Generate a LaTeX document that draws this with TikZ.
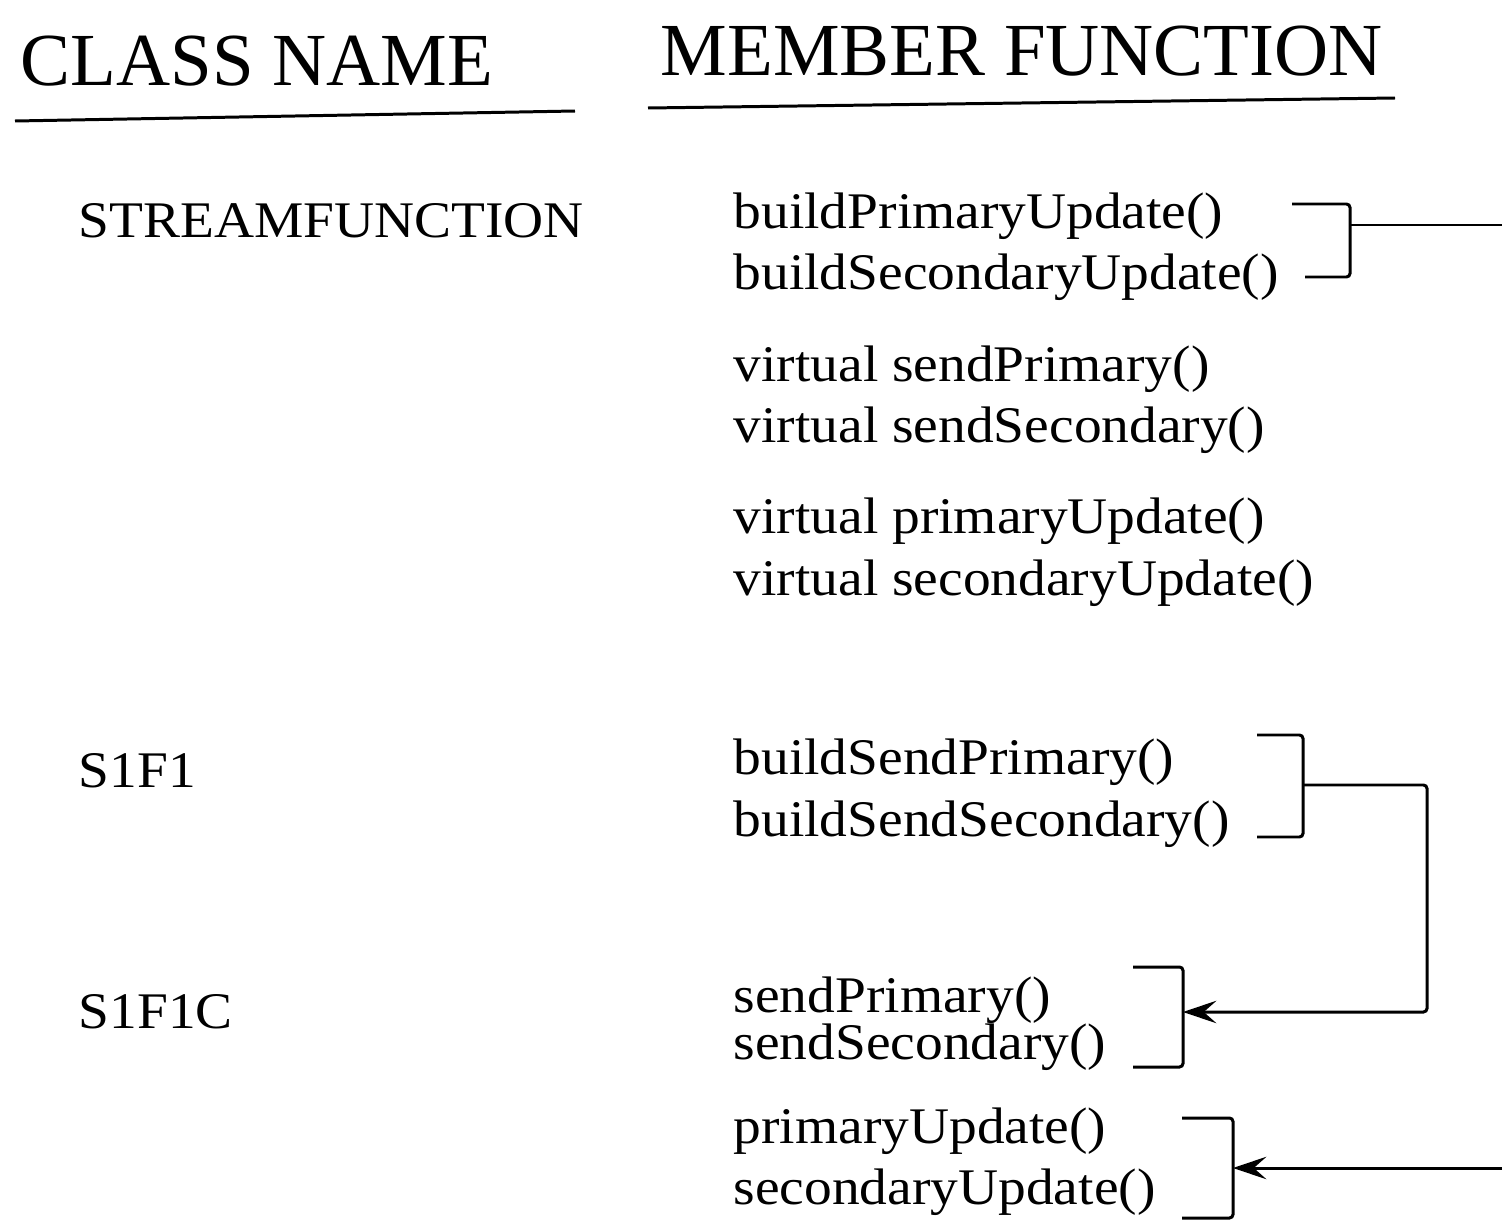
\documentclass[tikz,border=0pt]{standalone}
\usepackage{fontspec}
\setmainfont{Liberation Serif}
\newfontfamily\bodyfont{Liberation Serif}[FakeStretch=1.08]
\usepackage{tikz}
\usetikzlibrary{arrows.meta}

\begin{document}
\begin{tikzpicture}[
        x=0.01cm, y=-0.01cm,
        heading/.style={anchor=base west, inner sep=0pt, font=\fontsize{21.3}{24}\selectfont},
        entry/.style={anchor=base west, inner sep=0pt, font=\bodyfont\fontsize{14.6}{17}\selectfont},
        bracket/.style={draw, line width=0.85pt, rounded corners=1pt},
        link/.style={draw, line width=0.85pt, rounded corners=1pt,
            -{Stealth[length=9.5pt, width=6.4pt, inset=3.6pt]}}
    ]
        \useasboundingbox (0,0) rectangle (1502,1230);

        % Headings
        \node[heading] (clshead) at (20,85) {CLASS NAME};
        \node[heading] (memhead) at (660,75) {MEMBER FUNCTION};
        \draw[line width=0.85pt] (15,121) -- (575,111);
        \draw[line width=0.85pt] (648,108) -- (1395,98);

        % Classes
        \node[entry] (stream) at (78,237) {STREAMFUNCTION};
        \node[entry] (s1f1) at (78,787) {S1F1};
        \node[entry] (s1f1c) at (78,1028) {S1F1C};

        % Member functions
        \node[entry] (bpu) at (733,228) {buildPrimaryUpdate()};
        \node[entry] (bsu) at (733,289) {buildSecondaryUpdate()};
        \node[entry] (vsp) at (733,381) {virtual sendPrimary()};
        \node[entry] (vss) at (733,442) {virtual sendSecondary()};
        \node[entry] (vpu) at (733,533) {virtual primaryUpdate()};
        \node[entry] (vsu) at (733,595) {virtual secondaryUpdate()};
        \node[entry] (bsp) at (733,774) {buildSendPrimary()};
        \node[entry] (bss) at (733,836) {buildSendSecondary()};
        \node[entry] (sp) at (733,1012) {sendPrimary()};
        \node[entry] (ss) at (733,1059) {sendSecondary()};
        \node[entry] (pu) at (733,1143) {primaryUpdate()};
        \node[entry] (su) at (733,1204) {secondaryUpdate()};

        % Brackets
        \draw[bracket] (1292,204) -- (1350,204) -- (1350,277) -- (1305,277);
        \draw[bracket] (1257,735) -- (1303,735) -- (1303,837) -- (1257,837);
        \draw[bracket] (1133,967) -- (1183,967) -- (1183,1067) -- (1133,1067);
        \draw[bracket] (1182,1118) -- (1233,1118) -- (1233,1218) -- (1182,1218);
        \coordinate (build) at (1350,225);
        \coordinate (sendsrc) at (1303,785);
        \coordinate (senddst) at (1183,1012);
        \coordinate (updst) at (1233,1168);
        \coordinate (outr) at (1502,225);
        \coordinate (inr) at (1502,1168);

        % Links
        \draw[line width=0.85pt] (build) -- (outr);
        \draw[link] (sendsrc) -- (1427,785) -- (1427,1012) -- (senddst);
        \draw[link] (inr) -- (updst);
    \end{tikzpicture}
\end{document}
